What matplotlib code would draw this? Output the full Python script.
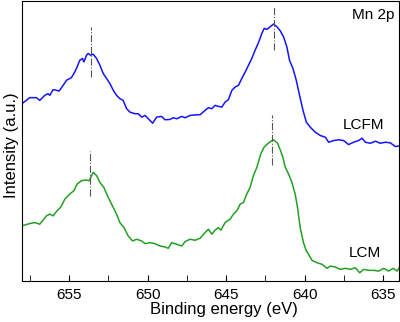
import matplotlib as mpl
mpl.use("Agg")
import matplotlib.pyplot as plt
import numpy as np

mpl.rcParams['font.family'] = ['Liberation Sans', 'DejaVu Sans']

# Mn 2p spectrum, LCFM sample (upper curve)
lcfm_e = [658.00, 657.51, 657.08, 656.87, 656.55, 656.34, 656.23, 656.02, 655.80, 655.64,
          655.38, 655.17, 654.96, 654.85, 654.64, 654.49, 654.32, 654.15, 654.06, 653.89,
          653.79, 653.64, 653.47, 653.25, 653.04, 652.83, 652.61, 652.40, 652.19, 651.98,
          651.77, 651.56, 651.34, 651.13, 650.81, 650.60, 650.38, 650.17, 649.96, 649.68,
          649.43, 649.11, 648.90, 648.58, 648.37, 648.15, 647.83, 647.62, 647.30, 646.87,
          646.66, 646.35, 646.13, 645.92, 645.71, 645.50, 645.28, 645.07, 644.86, 644.64,
          644.43, 644.22, 644.01, 643.79, 643.58, 643.37, 643.16, 642.95, 642.73, 642.58,
          642.41, 642.20, 641.99, 641.77, 641.56, 641.35, 641.14, 640.97, 640.75, 640.54,
          640.33, 640.11, 639.90, 639.65, 639.33, 639.01, 638.69, 638.48, 638.16, 637.84,
          637.53, 637.21, 636.89, 636.57, 636.35, 636.14, 635.82, 635.50, 635.19, 634.87,
          634.55, 634.23, 633.95]
lcfm_i = [176.7, 182.7, 182.7, 180.0, 185.0, 186.7, 185.0, 190.7, 190.0, 189.3,
          195.0, 200.0, 201.7, 202.7, 208.3, 213.3, 220.0, 221.7, 218.3, 225.0,
          226.7, 225.0, 226.0, 221.7, 215.0, 206.7, 201.7, 196.7, 190.0, 185.0,
          181.7, 180.0, 171.7, 168.3, 166.7, 166.7, 163.3, 165.0, 161.7, 157.3,
          163.3, 164.0, 160.7, 161.0, 162.7, 161.7, 164.0, 162.7, 165.0, 165.7,
          165.7, 170.0, 172.7, 171.7, 175.0, 174.0, 173.3, 178.3, 180.7, 190.0,
          193.3, 195.0, 201.7, 208.3, 215.0, 221.7, 230.0, 237.3, 246.7, 251.7,
          250.7, 253.3, 256.0, 253.3, 249.3, 243.3, 233.3, 220.0, 211.7, 200.0,
          185.0, 170.0, 158.3, 153.3, 148.3, 145.0, 143.3, 138.3, 140.0, 140.7,
          140.0, 136.0, 138.3, 140.0, 142.3, 138.3, 137.3, 139.3, 137.3, 138.3,
          137.7, 134.0, 134.7]

# LCM sample (lower curve)
lcm_e = [658.00, 657.51, 657.19, 656.87, 656.66, 656.44, 656.23, 656.02, 655.77, 655.55,
         655.27, 654.96, 654.70, 654.49, 654.21, 653.93, 653.72, 653.47, 653.25, 653.04,
         652.79, 652.51, 652.19, 651.98, 651.77, 651.51, 651.24, 650.96, 650.70, 650.38,
         650.17, 649.85, 649.53, 649.22, 648.90, 648.69, 648.47, 648.15, 647.83, 647.62,
         647.30, 646.98, 646.66, 646.35, 646.13, 645.92, 645.71, 645.50, 645.34, 645.07,
         644.75, 644.54, 644.32, 644.11, 643.90, 643.69, 643.48, 643.27, 643.05, 642.80,
         642.59, 642.37, 642.16, 641.99, 641.73, 641.56, 641.39, 641.24, 641.03, 640.82,
         640.61, 640.46, 640.29, 640.08, 639.90, 639.76, 639.54, 639.22, 638.90, 638.58,
         638.37, 638.05, 637.74, 637.42, 637.10, 636.78, 636.50, 636.25, 635.93, 635.61,
         635.29, 634.97, 634.66, 634.37, 634.12, 633.95]
lcm_i = [55.0, 57.3, 58.3, 56.7, 60.7, 65.0, 66.7, 65.0, 70.0, 73.3,
         81.7, 86.7, 90.0, 96.7, 100.0, 100.7, 100.0, 108.3, 105.0, 98.3,
         93.3, 83.3, 73.3, 66.7, 58.3, 53.3, 45.0, 40.0, 41.7, 40.0,
         37.3, 38.3, 37.3, 35.0, 34.0, 32.7, 38.3, 36.7, 35.0, 39.3,
         41.7, 40.7, 42.7, 48.3, 51.7, 46.7, 50.7, 53.3, 50.7, 58.3,
         61.7, 66.7, 70.0, 76.7, 78.3, 86.7, 93.3, 105.0, 113.3, 126.7,
         133.3, 136.7, 139.3, 140.7, 137.3, 130.7, 123.3, 113.3, 106.7, 98.3,
         86.7, 73.3, 53.3, 38.3, 30.0, 26.7, 20.7, 18.3, 16.7, 12.7,
         15.0, 14.0, 11.7, 12.7, 11.7, 13.3, 8.3, 11.7, 10.7, 10.7,
         10.0, 12.7, 10.0, 12.7, 10.0, 14.0]

# peak markers: (energy, lower, upper)
lcfm_peaks = [(653.62, 203, 253), (641.94, 230, 273)]
lcm_peaks = [(653.68, 85, 130), (642.08, 116, 165)]

fig = plt.figure(figsize=(4, 3.22), dpi=100)
ax = fig.add_axes([0.055, 0.127, 0.9425, 0.87])

ax.plot(lcfm_e, lcfm_i, color="#1414ff", linewidth=1.1)
ax.plot(lcm_e, lcm_i, color="#23a023", linewidth=1.1)

for e, lo, hi in lcfm_peaks + lcm_peaks:
    ax.vlines(e, lo, hi, colors="#555555", linestyles="-.", linewidth=0.8)

ax.text(0.987, 0.95, "Mn 2p", transform=ax.transAxes, ha="right", va="center", fontsize=11)
ax.text(636.27, 155, "LCFM", ha="center", va="center", fontsize=11)
ax.text(636.15, 28, "LCM", ha="center", va="center", fontsize=11)

ax.set_xlim(658, 634)
ax.set_ylim(0, 279)
ax.set_xticks([655, 650, 645, 640, 635])
ax.set_xticks(np.arange(657.5, 634, -5), minor=True)
ax.set_yticks([])
ax.tick_params(axis="x", which="major", direction="in", length=4, labelsize=11, pad=5)
ax.tick_params(axis="x", which="minor", direction="in", length=4)
ax.set_xlabel("Binding energy (eV)", fontsize=12, labelpad=0, x=0.536)
ax.set_ylabel("Intensity (a.u.)", fontsize=12, labelpad=2, y=0.485)

plt.savefig("out.png", dpi=100)
